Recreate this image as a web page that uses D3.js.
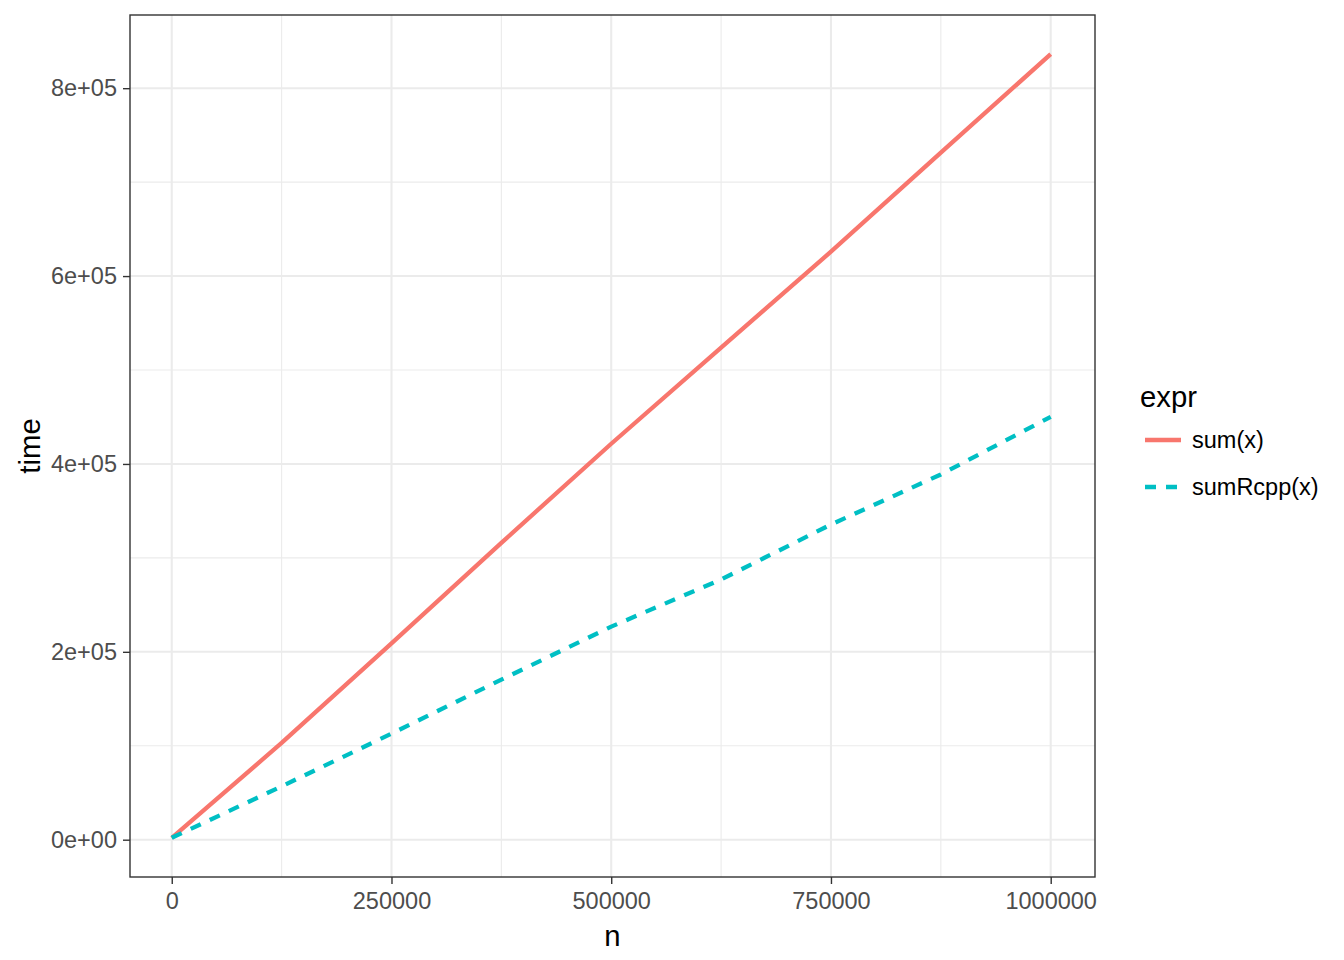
<!DOCTYPE html>
<html>
<head>
<meta charset="utf-8">
<script src="https://cdn.jsdelivr.net/npm/d3@7"></script>
<style>
  html, body { margin: 0; padding: 0; background: #fff; }
  svg { display: block; font-family: "Liberation Sans", Arial, sans-serif; }
</style>
</head>
<body>
<svg id="chart" width="1344" height="960"></svg>
<script>
// ---- data ----
const nValues = [0, 125000, 250000, 375000, 500000, 625000, 750000, 875000, 1000000];
const sumTime = [2000, 103000, 209000, 316000, 421500, 523700, 626000, 731500, 836200];
const sumRcppTime = [2000, 56800, 112900, 170400, 226800, 277000, 335500, 388800, 450200];
const seriesNames = ["sum(x)", "sumRcpp(x)"];
const seriesColors = ["#F8766D", "#00BFC4"];
const xTicks = [0, 250000, 500000, 750000, 1000000];
const xMinor = [125000, 375000, 625000, 875000];
const yTicks = [0, 200000, 400000, 600000, 800000];
const yTickLabels = ["0e+00", "2e+05", "4e+05", "6e+05", "8e+05"];
const yMinor = [100000, 300000, 500000, 700000];

const series = [
  { name: seriesNames[0], color: seriesColors[0], dash: null, values: nValues.map((n, i) => ({ n, t: sumTime[i] })) },
  { name: seriesNames[1], color: seriesColors[1], dash: "11,10", values: nValues.map((n, i) => ({ n, t: sumRcppTime[i] })) }
];

// ---- layout ----
const panel = { left: 130, right: 1095, top: 15, bottom: 877 };
const svg = d3.select("#chart");

const x = d3.scaleLinear().domain([-47500, 1050400]).range([panel.left, panel.right]);
const allT = sumTime.concat(sumRcppTime);
const tMin = d3.min(allT), tMax = d3.max(allT), pad = (tMax - tMin) * 0.05;
const y = d3.scaleLinear().domain([tMin - pad, tMax + pad]).range([panel.bottom, panel.top]);

// panel background
svg.append("rect").attr("x", panel.left).attr("y", panel.top)
  .attr("width", panel.right - panel.left).attr("height", panel.bottom - panel.top)
  .attr("fill", "#fff");

const grid = svg.append("g");
// minor grid
grid.selectAll(".xminor").data(xMinor).join("line")
  .attr("x1", d => x(d)).attr("x2", d => x(d)).attr("y1", panel.top).attr("y2", panel.bottom)
  .attr("stroke", "#EBEBEB").attr("stroke-width", 1.1);
grid.selectAll(".yminor").data(yMinor).join("line")
  .attr("y1", d => y(d)).attr("y2", d => y(d)).attr("x1", panel.left).attr("x2", panel.right)
  .attr("stroke", "#EBEBEB").attr("stroke-width", 1.1);
// major grid
grid.selectAll(".xmajor").data(xTicks).join("line")
  .attr("x1", d => x(d)).attr("x2", d => x(d)).attr("y1", panel.top).attr("y2", panel.bottom)
  .attr("stroke", "#EBEBEB").attr("stroke-width", 2.1);
grid.selectAll(".ymajor").data(yTicks).join("line")
  .attr("y1", d => y(d)).attr("y2", d => y(d)).attr("x1", panel.left).attr("x2", panel.right)
  .attr("stroke", "#EBEBEB").attr("stroke-width", 2.1);

// lines
const line = d3.line().x(d => x(d.n)).y(d => y(d.t));
svg.append("g").selectAll("path").data(series).join("path")
  .attr("d", d => line(d.values))
  .attr("fill", "none")
  .attr("stroke", d => d.color)
  .attr("stroke-width", 4.3)
  .attr("stroke-dasharray", d => d.dash)
  .attr("stroke-linecap", "butt")
  .attr("stroke-linejoin", "round");

// panel border
svg.append("rect").attr("x", panel.left).attr("y", panel.top)
  .attr("width", panel.right - panel.left).attr("height", panel.bottom - panel.top)
  .attr("fill", "none").attr("stroke", "#333333").attr("stroke-width", 1.4);

// axes
const xAxis = d3.axisBottom(x).tickValues(xTicks).tickFormat(d3.format("d")).tickSize(7).tickPadding(8);
const gx = svg.append("g").attr("transform", `translate(0,${panel.bottom})`).call(xAxis);
gx.select(".domain").remove();
gx.selectAll(".tick line").attr("stroke", "#333333").attr("stroke-width", 1.4);
gx.selectAll(".tick text").attr("fill", "#4D4D4D").attr("font-size", "23.5px")
  .attr("font-family", "Liberation Sans, Arial, sans-serif");

const yAxis = d3.axisLeft(y).tickValues(yTicks).tickFormat((d, i) => yTickLabels[i]).tickSize(7).tickPadding(6);
const gy = svg.append("g").attr("transform", `translate(${panel.left},0)`).call(yAxis);
gy.select(".domain").remove();
gy.selectAll(".tick line").attr("stroke", "#333333").attr("stroke-width", 1.4);
gy.selectAll(".tick text").attr("fill", "#4D4D4D").attr("font-size", "23.5px")
  .attr("font-family", "Liberation Sans, Arial, sans-serif");

// axis titles
svg.append("text").attr("x", (panel.left + panel.right) / 2).attr("y", 946)
  .attr("text-anchor", "middle").attr("font-size", "29.3px").attr("fill", "#000").text("n");
svg.append("text").attr("transform", `translate(40,${(panel.top + panel.bottom) / 2}) rotate(-90)`)
  .attr("text-anchor", "middle").attr("font-size", "29.3px").attr("fill", "#000").text("time");

// legend
const lg = svg.append("g");
lg.append("text").attr("x", 1140).attr("y", 407).attr("font-size", "29.3px").attr("fill", "#000").text("expr");
const items = lg.selectAll(".item").data(series).join("g")
  .attr("transform", (d, i) => `translate(0,${440 + i * 47})`);
items.append("line").attr("x1", 1145).attr("x2", 1181).attr("y1", 0).attr("y2", 0)
  .attr("stroke", d => d.color).attr("stroke-width", 4.3)
  .attr("stroke-dasharray", d => d.dash);
items.append("text").attr("x", 1192).attr("y", 0).attr("dy", "0.35em")
  .attr("font-size", "23.5px").attr("fill", "#000").text(d => d.name);
</script>
</body>
</html>
